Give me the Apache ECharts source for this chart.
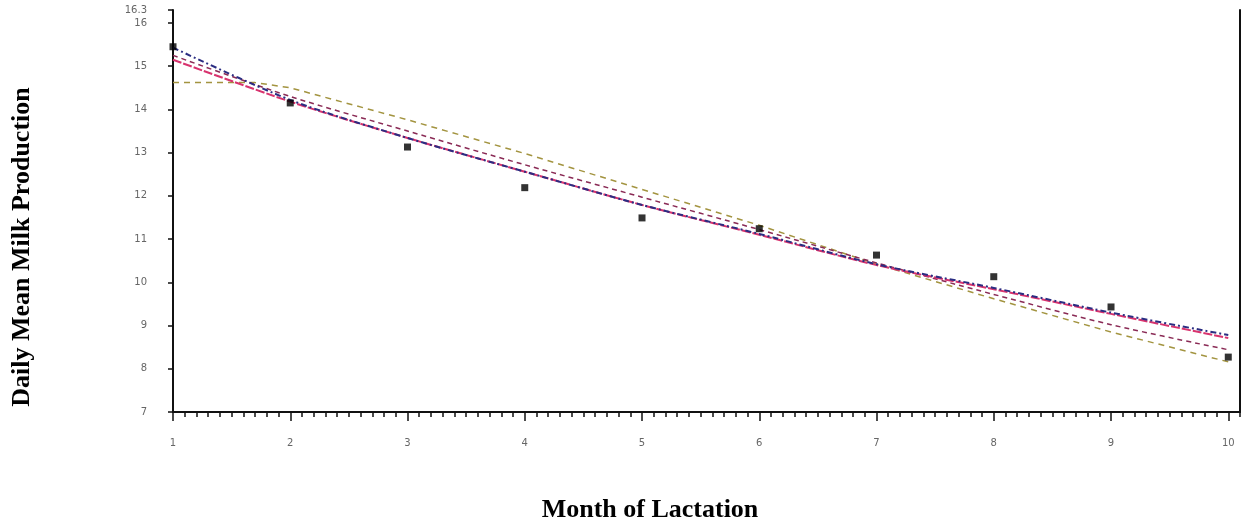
<!DOCTYPE html>
<html>
<head>
<meta charset="utf-8">
<title>Daily Mean Milk Production</title>
<script src="https://cdn.jsdelivr.net/npm/echarts@6.0.0/dist/echarts.min.js"></script>
<style>
  html, body { margin: 0; padding: 0; background: #fff; }
  #chart { width: 1254px; height: 527px; }
</style>
</head>
<body>
<div id="chart"></div>
<script>
// month of lactation
var months = [1, 2, 3, 4, 5, 6, 7, 8, 9, 10];
// observed daily means (black squares)
var observed = [15.45, 14.15, 13.13, 12.19, 11.49, 11.24, 10.63, 10.13, 9.43, 8.27];
// fitted curves
var fitBlue = [15.43, 14.22, 13.34, 12.56, 11.79, 11.12, 10.42, 9.87, 9.30, 8.78];
var fitMagenta = [15.15, 14.18, 13.34, 12.56, 11.79, 11.10, 10.40, 9.84, 9.27, 8.71];
var fitMaroon = [15.25, 14.30, 13.50, 12.72, 11.97, 11.22, 10.45, 9.72, 9.02, 8.44];
var oliveMonths = [1, 1.7, 2, 3, 4, 5, 6, 7, 8, 9, 10];
var fitOlive = [14.62, 14.62, 14.50, 13.76, 12.98, 12.15, 11.32, 10.42, 9.62, 8.85, 8.16];

function pairs(xs, ys) {
  return xs.map(function (x, i) { return [x, ys[i]]; });
}

var chart = echarts.init(document.getElementById('chart'));

var labelStyle = { color: '#666', fontSize: 10, fontFamily: 'DejaVu Sans' };
var titleFont = 'bold 26px "Liberation Serif"';

var option = {
  animation: false,
  backgroundColor: '#fff',
  grid: { left: 173, right: 14, top: 10, bottom: 115 },
  xAxis: [
    {
      type: 'value',
      min: 1,
      max: 10.1,
      interval: 1,
      axisLine: { lineStyle: { color: '#111', width: 2 } },
      axisTick: { length: 9, lineStyle: { color: '#111', width: 1.5 } },
      axisLabel: Object.assign({ margin: 26, showMaxLabel: false }, labelStyle),
      splitLine: { show: false }
    },
    {
      // minor ticks every 0.1 month
      type: 'value',
      position: 'bottom',
      min: 1,
      max: 10.1,
      interval: 0.1,
      axisLine: { show: false },
      axisTick: { length: 5, lineStyle: { color: '#111', width: 1.5 } },
      axisLabel: { show: false },
      splitLine: { show: false }
    }
  ],
  yAxis: [
    {
      type: 'value',
      min: 7,
      max: 16.3,
      interval: 1,
      axisLine: { show: true, lineStyle: { color: '#111', width: 2 } },
      axisTick: { show: true, length: 5, lineStyle: { color: '#111', width: 1.5 } },
      axisLabel: Object.assign({ margin: 26, showMaxLabel: true }, labelStyle),
      splitLine: { show: false }
    },
    {
      type: 'value',
      position: 'right',
      min: 7,
      max: 16.3,
      axisLine: { show: true, lineStyle: { color: '#111', width: 2 } },
      axisTick: { show: false },
      axisLabel: { show: false },
      splitLine: { show: false }
    }
  ],
  graphic: [
    {
      type: 'text',
      x: 22,
      y: 247,
      rotation: Math.PI / 2,
      style: {
        text: 'Daily Mean Milk Production',
        font: titleFont,
        fill: '#000',
        align: 'center',
        verticalAlign: 'middle'
      }
    },
    {
      type: 'text',
      x: 650,
      y: 510,
      style: {
        text: 'Month of Lactation',
        font: titleFont,
        fill: '#000',
        align: 'center',
        verticalAlign: 'middle'
      }
    }
  ],
  series: [
    {
      name: 'olive',
      type: 'line',
      data: pairs(oliveMonths, fitOlive),
      showSymbol: false,
      lineStyle: { color: '#a39440', width: 1.5, type: [6, 5] }
    },
    {
      name: 'maroon',
      type: 'line',
      smooth: 0.3,
      data: pairs(months, fitMaroon),
      showSymbol: false,
      lineStyle: { color: '#8a2a55', width: 1.5, type: [5, 4] }
    },
    {
      name: 'magenta',
      type: 'line',
      smooth: 0.3,
      data: pairs(months, fitMagenta),
      showSymbol: false,
      lineStyle: { color: '#d8336e', width: 2, type: [9, 2] }
    },
    {
      name: 'blue',
      type: 'line',
      smooth: 0.3,
      data: pairs(months, fitBlue),
      showSymbol: false,
      lineStyle: { color: '#2b2d82', width: 2, type: [6, 3, 2, 3] }
    },
    {
      name: 'observed',
      type: 'scatter',
      symbol: 'rect',
      symbolSize: 7,
      data: pairs(months, observed),
      itemStyle: { color: '#000' },
      z: 5
    }
  ]
};

chart.setOption(option);
</script>
</body>
</html>
